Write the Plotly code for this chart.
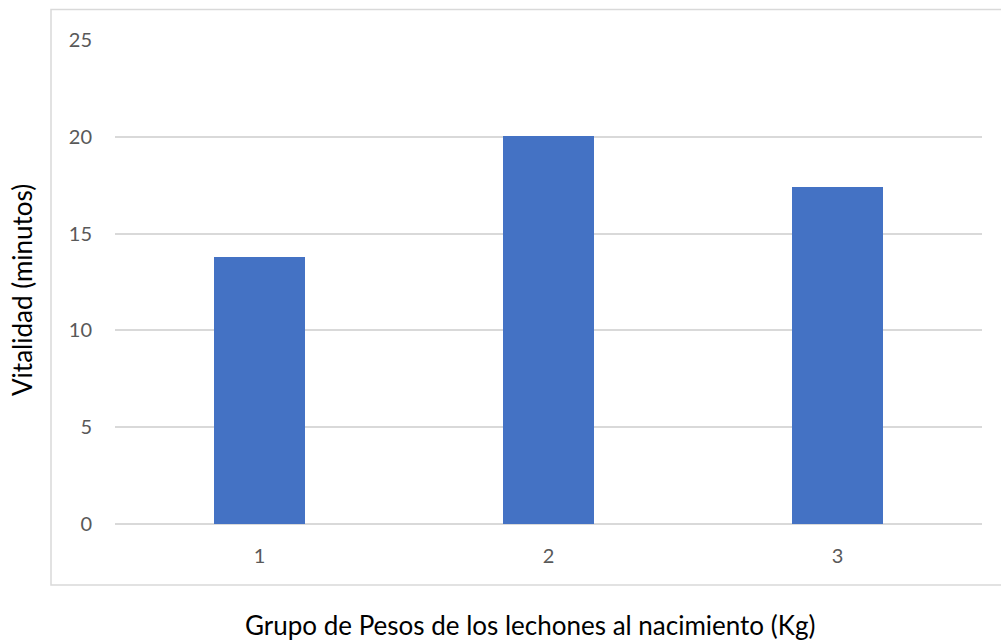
import plotly.graph_objects as go

# Weight groups of piglets at birth and their mean vitality (minutes)
grupos = ["1", "2", "3"]
vitalidad = [13.78, 20.05, 17.42]
y_ticks = [0, 5, 10, 15, 20, 25]

W, H = 1001, 642
L, R, T, B = 115, 19, 40, 118
plot_w = W - L - R
plot_h = H - T - B

fig = go.Figure(
    go.Bar(
        x=grupos,
        y=vitalidad,
        width=0.315,
        marker=dict(color="#4472C4", line=dict(width=0)),
    )
)

tick_font = dict(family="Lato, Open Sans, sans-serif", size=20, color="#595959")
title_font = dict(family="Lato, Open Sans, sans-serif", size=26, color="#000000")

fig.update_layout(
    width=W,
    height=H,
    margin=dict(l=L, r=R, t=T, b=B),
    paper_bgcolor="white",
    plot_bgcolor="white",
    showlegend=False,
    bargap=0,
    xaxis=dict(
        type="category",
        showgrid=False,
        showline=False,
        ticks="",
        tickfont=tick_font,
        ticklabelstandoff=18,
    ),
    yaxis=dict(
        range=[0, 25],
        tickvals=y_ticks,
        showgrid=True,
        gridcolor="#D9D9D9",
        gridwidth=1.5,
        zeroline=True,
        zerolinecolor="#D9D9D9",
        zerolinewidth=1.5,
        showline=False,
        ticks="",
        tickfont=tick_font,
        ticklabelstandoff=22,
    ),
    annotations=[
        dict(
            text="Grupo de Pesos de los lechones al nacimiento (Kg)",
            xref="paper", yref="paper",
            x=(530 - L) / plot_w, y=-(625 - (T + plot_h)) / plot_h,
            xanchor="center", yanchor="middle",
            borderpad=0,
            showarrow=False, font=title_font,
        ),
        dict(
            text="Vitalidad (minutos)",
            xref="paper", yref="paper",
            x=(22 - L) / plot_w, y=(T + plot_h - 290) / plot_h,
            xanchor="center", yanchor="middle",
            textangle=-90,
            showarrow=False, font=title_font,
        ),
    ],
    shapes=[
        dict(
            type="rect",
            xref="paper", yref="paper",
            x0=(51 - L) / plot_w, x1=(1010 - L) / plot_w,
            y0=(T + plot_h - 585) / plot_h, y1=(T + plot_h - 9.5) / plot_h,
            line=dict(color="#D9D9D9", width=1.5),
            fillcolor="rgba(0,0,0,0)",
            layer="below",
        )
    ],
)

fig.write_html("out.html")
